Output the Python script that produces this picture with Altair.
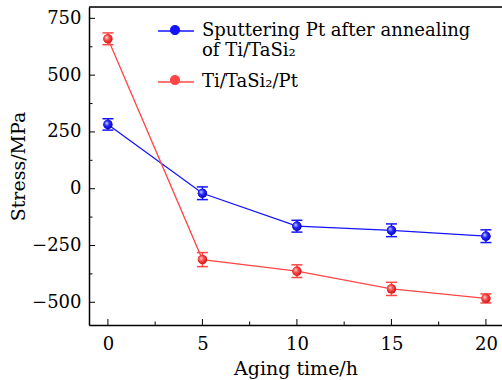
import altair as alt
import pandas as pd

# ---- data ----
hours = [0, 5, 10, 15, 20]
blue_stress = [283, -20, -165, -183, -209]
blue_err = [25, 28, 26, 28, 28]
red_stress = [660, -312, -363, -441, -483]
red_err = [26, 31, 28, 29, 20]
series_names = ["Sputtering Pt after annealing|of Ti/TaSi₂", "Ti/TaSi₂/Pt"]
series_colors = ["#1414ff", "#ff4646"]

x_major = [0, 5, 10, 15, 20]
x_minor = [2.5, 7.5, 12.5, 17.5]
y_major = [-500, -250, 0, 250, 500, 750]
y_minor = [-375, -125, 125, 375, 625]

FONT = "DejaVu Serif"
W, H = 413, 318

rows = []
for name, vals, errs in [(series_names[0], blue_stress, blue_err),
                         (series_names[1], red_stress, red_err)]:
    for h, v, e in zip(hours, vals, errs):
        rows.append({"series": name, "hours": h, "stress": v,
                     "lo": v - e, "hi": v + e})
df = pd.DataFrame(rows)

xscale = alt.Scale(domain=[-1, 20.85], nice=False, zero=False)
yscale = alt.Scale(domain=[-600, 800], nice=False, zero=False)
cscale = alt.Scale(domain=series_names, range=series_colors)

line_path = "M-1,0H1"
dot_path = ("M0.28,0A0.28,0.28,0,1,1,-0.28,0"
            "A0.28,0.28,0,1,1,0.28,0Z")

common_legend = dict(
    title=None, orient="none", legendX=68, legendY=5,
    symbolSize=1296, symbolOpacity=1,
    labelFont=FONT, labelFontSize=18, labelColor="black",
    labelLimit=500, labelOffset=7, rowPadding=3,
)
legend_line = alt.Legend(symbolType=line_path, symbolStrokeWidth=1.5,
                         zindex=1, labelExpr="split(datum.label, '|')",
                         **common_legend)
# second, label-less legend that only draws the marker on top of the line
legend_dot = alt.Legend(symbolType=dot_path, symbolStrokeWidth=0,
                        labelOpacity=0, zindex=2,
                        labelExpr="indexof(datum.label, '|') >= 0 ? [' ', ' '] : [' ']",
                        **common_legend)

base = alt.Chart(df)

xaxis = alt.Axis(values=x_major, ticks=False, grid=False,
                 domainColor="black", domainWidth=1.5,
                 labelFont=FONT, labelFontSize=18,
                 labelColor="black", labelPadding=10,
                 titleFont=FONT, titleFontSize=19,
                 titleFontWeight="normal", titleColor="black",
                 titlePadding=6)
yaxis = alt.Axis(values=y_major, ticks=False, grid=False,
                 domainColor="black", domainWidth=1.5,
                 labelFont=FONT, labelFontSize=18,
                 labelColor="black", labelPadding=8,
                 titleFont=FONT, titleFontSize=19,
                 titleFontWeight="normal", titleColor="black",
                 titlePadding=3)

lines = base.mark_line(strokeWidth=1.3).encode(
    x=alt.X("hours:Q", scale=xscale, title="Aging time/h", axis=xaxis),
    y=alt.Y("stress:Q", scale=yscale, title="Stress/MPa", axis=yaxis),
    color=alt.Color("series:N", scale=cscale, legend=legend_line),
)

legend_pts = base.mark_point(filled=True, size=85, opacity=1).encode(
    x=alt.X("hours:Q", scale=xscale),
    y=alt.Y("stress:Q", scale=yscale),
    color=alt.Color("series:N", scale=cscale, legend=legend_dot),
)

errs = base.mark_rule(strokeWidth=1.5).encode(
    x=alt.X("hours:Q", scale=xscale),
    y=alt.Y("lo:Q", scale=yscale),
    y2="hi:Q",
    color=alt.Color("series:N", scale=cscale, legend=None),
)
cap_lo = base.mark_tick(size=11, thickness=1.5, orient="horizontal", opacity=1).encode(
    x=alt.X("hours:Q", scale=xscale),
    y=alt.Y("lo:Q", scale=yscale),
    color=alt.Color("series:N", scale=cscale, legend=None),
)
cap_hi = base.mark_tick(size=11, thickness=1.5, orient="horizontal", opacity=1).encode(
    x=alt.X("hours:Q", scale=xscale),
    y=alt.Y("hi:Q", scale=yscale),
    color=alt.Color("series:N", scale=cscale, legend=None),
)


def sphere(light, mid, dark):
    return alt.RadialGradient(
        gradient="radial",
        stops=[alt.GradientStop(color=light, offset=0),
               alt.GradientStop(color=mid, offset=0.45),
               alt.GradientStop(color=dark, offset=1)],
        x1=0.35, y1=0.35, r1=0, x2=0.45, y2=0.45, r2=0.6)


pts_blue = alt.Chart(df[df.series == series_names[0]]).mark_point(
    filled=True, size=85, opacity=1, fill=sphere("#d8d8ff", "#2a2aff", "#0000b0")
).encode(x=alt.X("hours:Q", scale=xscale), y=alt.Y("stress:Q", scale=yscale))
pts_red = alt.Chart(df[df.series == series_names[1]]).mark_point(
    filled=True, size=85, opacity=1, fill=sphere("#ffdede", "#ff4a4a", "#c81010")
).encode(x=alt.X("hours:Q", scale=xscale), y=alt.Y("stress:Q", scale=yscale))

# inward ticks
xt_major = alt.Chart(pd.DataFrame({"hours": x_major})).mark_rule(
    color="black", strokeWidth=1).encode(
    x=alt.X("hours:Q", scale=xscale), y=alt.value(H), y2=alt.value(H - 6))
xt_minor = alt.Chart(pd.DataFrame({"hours": x_minor})).mark_rule(
    color="black", strokeWidth=1).encode(
    x=alt.X("hours:Q", scale=xscale), y=alt.value(H), y2=alt.value(H - 3.5))
yt_major = alt.Chart(pd.DataFrame({"stress": y_major})).mark_rule(
    color="black", strokeWidth=1).encode(
    y=alt.Y("stress:Q", scale=yscale), x=alt.value(0), x2=alt.value(6))
yt_minor = alt.Chart(pd.DataFrame({"stress": y_minor})).mark_rule(
    color="black", strokeWidth=1).encode(
    y=alt.Y("stress:Q", scale=yscale), x=alt.value(0), x2=alt.value(3.5))
top_border = alt.Chart(pd.DataFrame({"a": [0]})).mark_rule(
    color="black", strokeWidth=1.5).encode(
    y=alt.value(0), x=alt.value(0), x2=alt.value(W))

chart = alt.layer(
    lines, legend_pts, top_border, xt_major, xt_minor, yt_major, yt_minor,
    errs, cap_lo, cap_hi, pts_blue, pts_red,
).resolve_legend(color="independent").properties(
    width=W, height=H,
    autosize=alt.AutoSizeParams(type="none"),
    padding={"left": 89, "top": 7, "right": 0, "bottom": 55},
).configure_view(stroke=None).configure(background="white")

chart.save("out.html", embed_options={"renderer": "svg", "actions": False})
